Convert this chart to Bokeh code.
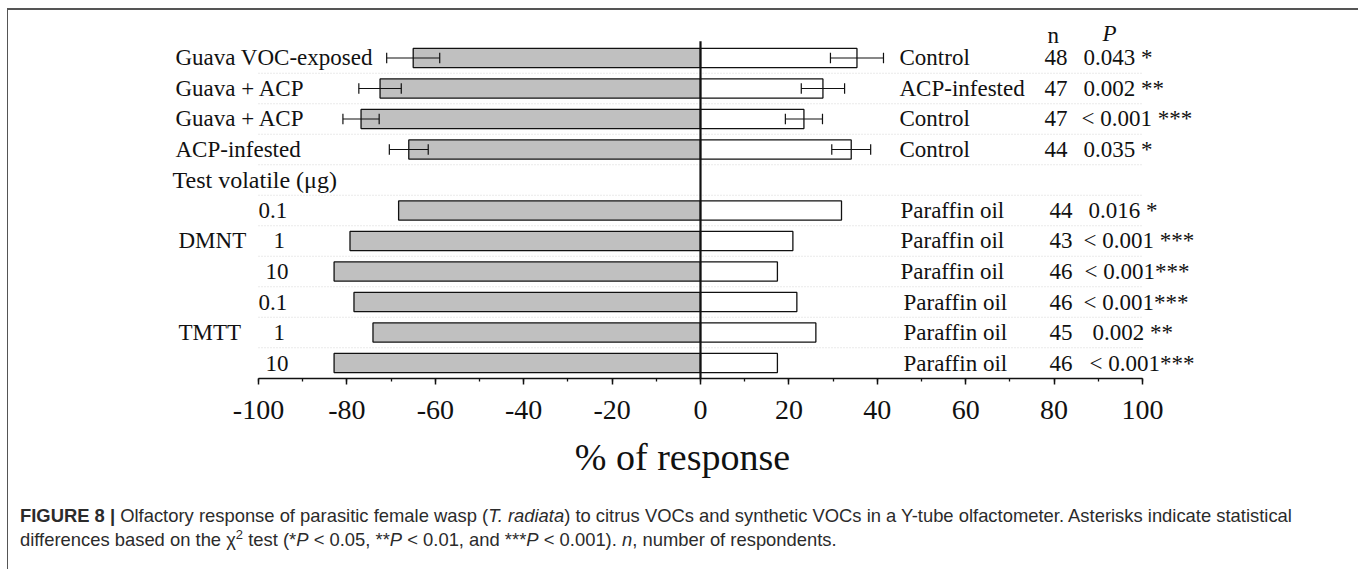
from bokeh.plotting import figure
from bokeh.models import Range1d, SingleIntervalTicker, Div, ColumnDataSource
from bokeh.layouts import column
from bokeh.core.properties import value
from bokeh.embed import file_html
from bokeh.resources import INLINE

# ---------------- data ----------------
left_stimulus = ["Guava VOC-exposed", "Guava + ACP", "Guava + ACP", "ACP-infested"]
right_stimulus = ["Control", "ACP-infested", "Control", "Control",
                  "Paraffin oil", "Paraffin oil", "Paraffin oil",
                  "Paraffin oil", "Paraffin oil", "Paraffin oil"]
compounds = ["DMNT", "TMTT"]
doses = ["0.1", "1", "10", "0.1", "1", "10"]
section_header = "Test volatile  (\u03bcg)"
left_pct = [-65.0, -72.5, -76.8, -66.0, -68.3, -79.3, -82.9, -78.4, -74.1, -82.9]
right_pct = [35.4, 27.7, 23.4, 34.1, 31.9, 20.9, 17.4, 21.8, 26.1, 17.4]
left_err = [6.0, 4.8, 4.1, 4.4]
right_err = [6.0, 4.9, 4.2, 4.4]
n_resp = [48, 47, 47, 44, 44, 43, 46, 46, 45, 46]
p_text = ["0.043 *", "0.002 **", "< 0.001 ***", "0.035 *", "0.016 *",
          "< 0.001 ***", "< 0.001***", "< 0.001***", "0.002 **", "< 0.001***"]
x_ticks = [-100, -80, -60, -40, -20, 0, 20, 40, 60, 80, 100]
x_tick_labels = ["-100", "-80", "-60", "-40", "-20", "0", "20", "40", "60", "80", "100"]
x_title = "% of response"

# ---------------- layout helpers ----------------
rows = [0, 1, 2, 3, 5, 6, 7, 8, 9, 10]
header_row = 4
PX = 4.42            # pixels per percent
ZERO_PAGE = 700.0    # page x of 0 %
ORIGIN_X = 8         # page x of the figure's left edge
def dx(page_x):
    return (page_x - ZERO_PAGE) / PX

W, H = 1348, 480
FONT = value("Liberation Serif")

p = figure(width=W, height=H, output_backend="svg", toolbar_location=None,
           x_range=Range1d(dx(ORIGIN_X), dx(ORIGIN_X + W)),
           y_range=Range1d(10.508, -1.557),
           y_axis_location=None, min_border_left=0, min_border_right=0,
           min_border_top=0, min_border_bottom=112)
p.outline_line_color = None
p.xgrid.visible = False
p.ygrid.visible = False
p.background_fill_color = "white"
p.border_fill_color = "white"

# dotted separators between rows
sep_y = [r + 0.5 for r in range(10)]
p.segment(x0=[-100] * len(sep_y), x1=[100] * len(sep_y), y0=sep_y, y1=sep_y,
          line_color="#d4d4d4", line_width=1, line_dash="1 2")

bar_h = 0.63
p.hbar(y=rows, left=left_pct, right=0, height=bar_h, fill_color="#c0c0c0",
       line_color="#111111", line_width=1.3)
p.hbar(y=rows, left=0, right=right_pct, height=bar_h, fill_color="white",
       line_color="#111111", line_width=1.3)

# error bars (first 4 rows)
cap = 0.17
ey = rows[:4]
for vals, errs in ((left_pct[:4], left_err), (right_pct[:4], right_err)):
    lo = [v - e for v, e in zip(vals, errs)]
    hi = [v + e for v, e in zip(vals, errs)]
    src = ColumnDataSource(dict(y=ey, lo=lo, hi=hi,
                                yt=[y - cap for y in ey], yb=[y + cap for y in ey]))
    p.segment(x0="lo", x1="hi", y0="y", y1="y", source=src, line_color="#111111", line_width=1.2)
    p.segment(x0="lo", x1="lo", y0="yt", y1="yb", source=src, line_color="#111111", line_width=1.2)
    p.segment(x0="hi", x1="hi", y0="yt", y1="yb", source=src, line_color="#111111", line_width=1.2)

# zero line
p.segment(x0=[0], x1=[0], y0=[-0.55], y1=[10.508], line_color="#111111", line_width=2.2)

# x axis
ax = p.xaxis[0]
ax.bounds = (-100, 100)
ax.ticker = SingleIntervalTicker(interval=20, num_minor_ticks=2)
ax.major_label_overrides = {t: l for t, l in zip(x_ticks, x_tick_labels)}
ax.axis_line_width = 1.5
ax.axis_line_color = "#111111"
ax.major_tick_line_width = 1.5
ax.major_tick_line_color = "#111111"
ax.minor_tick_line_width = 1.3
ax.minor_tick_line_color = "#111111"
ax.major_tick_out = 6
ax.major_tick_in = 0
ax.minor_tick_out = 3
ax.minor_tick_in = 0
ax.major_label_text_font = "Liberation Serif"
ax.major_label_text_font_size = "28px"
ax.major_label_text_color = "#111111"
ax.major_label_standoff = 16
ax.axis_label = x_title
ax.axis_label_text_font = "Liberation Serif"
ax.axis_label_text_font_size = "38px"
ax.axis_label_text_font_style = "normal"
ax.axis_label_text_color = "#111111"
ax.axis_label_standoff = 14

txt = dict(text_font=FONT, text_font_size="23px", text_color="#111111",
           text_baseline="middle", text_align="left")

# left labels
p.text(x=[dx(175)] * 4, y=rows[:4], text=left_stimulus, **txt)
p.text(x=[dx(172)], y=[header_row], text=[section_header],
       **{**txt, "text_font_size": "24px"})
dose_x = {"0.1": dx(258), "1": dx(273), "10": dx(265)}
p.text(x=[dose_x[d] for d in doses], y=rows[4:], text=doses, **txt)
p.text(x=[dx(178)] * 2, y=[rows[5], rows[8]], text=compounds, **txt)

# right labels
rx = [dx(899)] * 4 + [dx(900)] * 3 + [dx(903)] * 3
p.text(x=rx, y=rows, text=right_stimulus, **txt)
nx = [dx(1044)] * 4 + [dx(1049)] * 6
p.text(x=nx, y=rows, text=[str(v) for v in n_resp], **txt)
px_ = [dx(1083), dx(1083), dx(1081), dx(1083), dx(1088), dx(1083), dx(1084), dx(1083), dx(1092), dx(1089)]
p.text(x=px_, y=rows, text=p_text, **txt)

# column headers
p.text(x=[dx(1047)], y=[-0.75], text=["n"], **txt)
p.text(x=[dx(1102)], y=[-0.8], text=["P"], text_font_style="italic", **txt)

caption_html = (
    '<div style="font-family:\'Liberation Sans\',Arial,sans-serif;font-size:18.4px;'
    'color:#2b2b2b;line-height:24px;padding:9px 0 0 7px;white-space:nowrap;">'
    '<b>FIGURE 8 |</b> Olfactory response of parasitic female wasp (<i>T. radiata</i>) '
    'to citrus VOCs and synthetic VOCs in a Y-tube olfactometer. Asterisks indicate statistical<br>'
    'differences based on the \u03c7<sup style="font-size:13px;line-height:0">2</sup> test '
    '(*<i>P</i> &lt; 0.05, **<i>P</i> &lt; 0.01, and ***<i>P</i> &lt; 0.001). '
    '<i>n</i>, number of respondents.</div>'
)
cap_div = Div(text=caption_html, width=W, height=80)

layout = column(p, cap_div, styles={"margin-left": "7px", "margin-top": "8px",
                                    "border-top": "2px solid #555555",
                                    "border-left": "1px solid #555555",
                                    "border-right": "1px solid #555555",
                                    "background": "white"})

open("out.html", "w").write(file_html(layout, INLINE))
